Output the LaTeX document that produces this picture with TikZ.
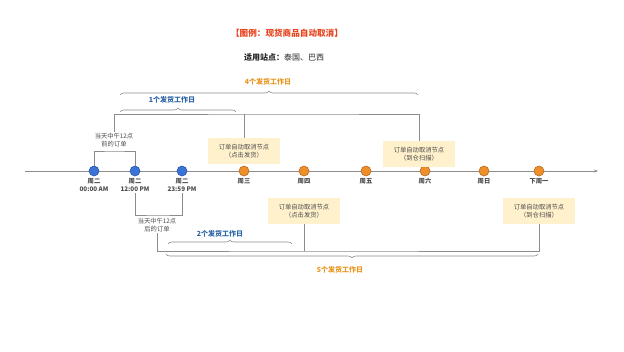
\documentclass[tikz,border=0pt]{standalone}
\usepackage{fontspec}
\setmainfont{Noto Sans CJK SC}
\usetikzlibrary{positioning,arrows.meta,decorations.pathreplacing}
\definecolor{dotblue}{HTML}{3B73D6}
\definecolor{dotblueline}{HTML}{2A56A8}
\definecolor{dotorange}{HTML}{EE8F2C}
\definecolor{dotorangeline}{HTML}{B96A1E}
\definecolor{notefill}{HTML}{FFF1CC}
\definecolor{titlered}{HTML}{E8431E}
\definecolor{spanblue}{HTML}{2C64A8}
\definecolor{spanorange}{HTML}{E9951F}
\definecolor{railgray}{HTML}{8C8C8C}
\definecolor{textgray}{HTML}{4A4A4A}

\begin{document}
\begin{tikzpicture}[x=1pt, y=-1pt,
            dot/.style={circle, draw, line width=0.6pt, minimum size=10pt, inner sep=0pt},
            bluedot/.style={dot, fill=dotblue, draw=dotblueline},
            orangedot/.style={dot, fill=dotorange, draw=dotorangeline},
            day/.style={below=1pt of #1, align=center, inner sep=1pt, text=textgray, font=\fontsize{6.3}{8.2}\selectfont\bfseries},
            note/.style={rectangle, fill=notefill, minimum width=72pt, minimum height=26pt, align=center, text=textgray, inner sep=1pt, font=\fontsize{6.3}{8.5}\selectfont},
            remark/.style={align=center, inner sep=1pt, text=textgray, font=\fontsize{6.3}{8.5}\selectfont},
            span/.style={font=\fontsize{7}{8}\selectfont\bfseries, inner sep=1pt},
            rail/.style={draw=railgray, line width=0.7pt},
            brace/.style={draw=railgray, line width=0.6pt, decorate, decoration={brace, amplitude=4pt}},
            axis/.style={-{Stealth[length=4pt, width=3pt]}, draw=railgray, line width=0.8pt}
        ]
            \useasboundingbox (0,0) rectangle (624,351);

            % heading
            \node[text=titlered, font=\fontsize{8.6}{10}\selectfont\bfseries] (title) at (287,33) {【图例：现货商品自动取消】};
            \node[text=black!85, font=\fontsize{8}{10}\selectfont] (sites) at (284,57) {\textbf{适用站点：}泰国、巴西};

            % time line
            \coordinate (tl0) at (25,171);
            \coordinate (tl1) at (598,171);
            \draw[axis] (tl0) -- (tl1);

            \node[bluedot] (d1) at (94,171) {};
            \node[bluedot] (d2) at (135,171) {};
            \node[bluedot] (d3) at (182,171) {};
            \node[orangedot] (d4) at (244,171) {};
            \node[orangedot] (d5) at (304,171) {};
            \node[orangedot] (d6) at (366,171) {};
            \node[orangedot] (d7) at (425,171) {};
            \node[orangedot] (d8) at (484,171) {};
            \node[orangedot] (d9) at (539,171) {};

            \node[day=d1] (l1) {周二\\00:00 AM};
            \node[day=d2] (l2) {周二\\12:00 PM};
            \node[day=d3] (l3) {周二\\23:59 PM};
            \node[day=d4] (l4) {周三};
            \node[day=d5] (l5) {周四};
            \node[day=d6] (l6) {周五};
            \node[day=d7] (l7) {周六};
            \node[day=d8] (l8) {周日};
            \node[day=d9] (l9) {下周一};

            % cancel points
            \node[note] (n1) at (244,151) {订单自动取消节点\\（点击发货）};
            \node[note] (n2) at (419,154) {订单自动取消节点\\（到仓扫描）};
            \node[note] (n3) at (304,211) {订单自动取消节点\\（点击发货）};
            \node[note] (n4) at (539,211) {订单自动取消节点\\（到仓扫描）};

            % orders before noon
            \node[remark] (pre) at (114,140) {当天中午12点\\前的订单};
            \coordinate (prebar) at (114,151);
            \draw[rail] (d1.north) |- (prebar) -| (d2.north);
            \coordinate (toprail) at (300,114);
            \draw[rail] (pre.north) |- (toprail) -| (n2.north);
            \draw[rail] (n1.north) -- (n1.north |- toprail);

            % orders after noon
            \node[remark] (post) at (157,225) {当天中午12点\\后的订单};
            \coordinate (postbar) at (157,215);
            \draw[rail] (l2.south) |- (postbar) -| (l3.south);
            \coordinate (lowrail) at (300,251);
            \draw[rail] (post.south) |- (lowrail) -| (n4.south);
            \draw[rail] (n3.south) -- (n3.south |- lowrail);

            % working day spans
            \coordinate (s4a) at (120,95);
            \coordinate (s4b) at (418,95);
            \draw[brace] (s4a) -- (s4b);
            \node[span, text=spanorange] (w4) at (268,82) {4个发货工作日};
            \coordinate (s1a) at (120,112);
            \coordinate (s1b) at (236,112);
            \draw[brace] (s1a) -- (s1b);
            \node[span, text=spanblue] (w1) at (172,100) {1个发货工作日};
            \coordinate (s2a) at (168,244);
            \coordinate (s2b) at (292,244);
            \draw[brace] (s2a) -- (s2b);
            \node[span, text=spanblue] (w2) at (220,234) {2个发货工作日};
            \coordinate (s5a) at (166,254);
            \coordinate (s5b) at (538,254);
            \draw[brace] (s5b) -- (s5a);
            \node[span, text=spanorange] (w5) at (340,270) {5个发货工作日};
        \end{tikzpicture}
\end{document}
